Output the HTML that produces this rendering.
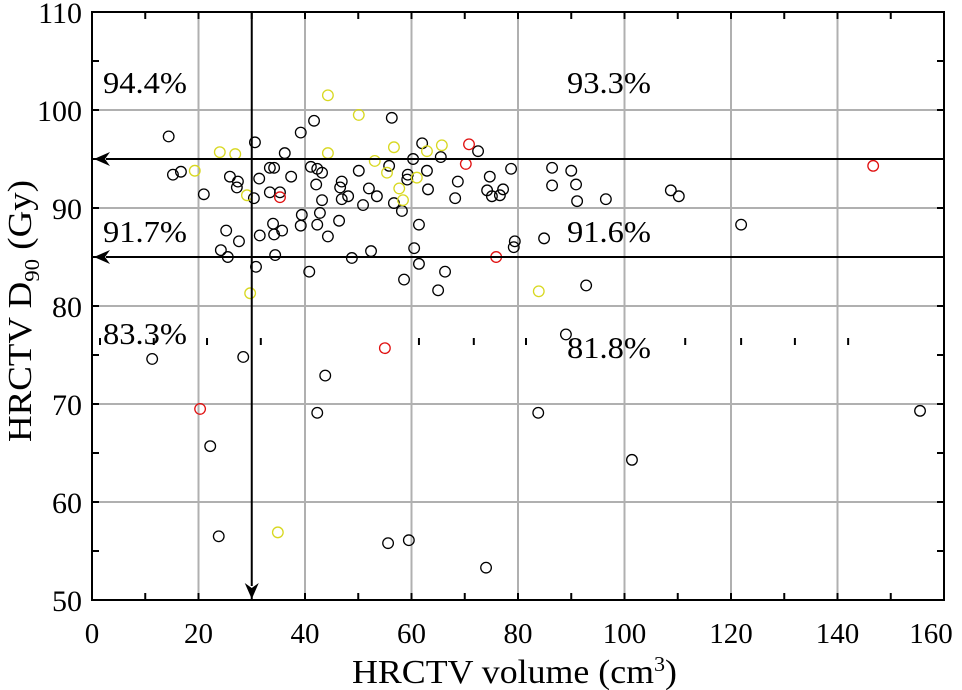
<!DOCTYPE html>
<html><head><meta charset="utf-8"><style>
html,body{margin:0;padding:0;background:#fff;}
svg{display:block;font-family:"Liberation Serif",serif;}
</style></head><body>
<svg id="chart" width="962" height="690" viewBox="0 0 962 690">
<g id="grid"></g>
<g id="marks"></g>
<g id="axes"></g>
<text x="352" y="683" font-size="34" textLength="325" lengthAdjust="spacingAndGlyphs">HRCTV volume (cm<tspan font-size="21" dy="-12">3</tspan><tspan dy="12">)</tspan></text>
<text transform="translate(31,311) rotate(-90)" font-size="34" text-anchor="middle" textLength="262" lengthAdjust="spacingAndGlyphs">HRCTV D<tspan font-size="21" dy="8">90</tspan><tspan dy="-8"> (Gy)</tspan></text>
</svg>
<script>
const blackX=[14.4,30.6,36.2,39.2,41.7,15.2,16.7,21.0,25.9,27.4,27.2,30.4,31.4,33.4,34.2,37.4,33.4,35.3,41.1,42.3,43.2,42.1,43.2,39.4,42.8,39.2,42.3,44.3,25.2,27.6,31.5,34.0,34.2,35.7,24.2,25.5,34.4,30.8,40.8,56.3,62.0,72.5,65.5,60.3,55.8,50.1,59.3,62.9,59.2,46.9,46.6,48.1,46.9,52.0,53.5,56.7,58.2,50.9,63.1,68.7,68.2,74.7,78.7,74.2,75.1,76.6,77.2,86.4,86.4,46.4,61.4,60.5,48.8,52.4,79.4,79.2,84.9,61.4,66.3,58.6,65.0,90.0,90.9,91.1,96.5,108.7,110.2,121.9,92.8,11.3,28.4,43.8,42.3,22.2,23.8,55.6,59.5,74.0,83.8,89.0,101.4,155.5];
const blackY=[97.3,96.7,95.6,97.7,98.9,93.4,93.7,91.4,93.2,92.7,92.1,91.0,93.0,94.1,94.1,93.2,91.6,91.6,94.2,94.0,93.6,92.4,90.8,89.3,89.5,88.2,88.3,87.1,87.7,86.6,87.2,88.4,87.3,87.7,85.7,85.0,85.2,84.0,83.5,99.2,96.6,95.8,95.2,95.0,94.3,93.8,93.4,93.8,92.9,92.7,92.1,91.2,90.9,92.0,91.2,90.5,89.7,90.3,91.9,92.7,91.0,93.2,94.0,91.8,91.2,91.3,91.9,94.1,92.3,88.7,88.3,85.9,84.9,85.6,86.6,86.0,86.9,84.3,83.5,82.7,81.6,93.8,92.4,90.7,90.9,91.8,91.2,88.3,82.1,74.6,74.8,72.9,69.1,65.7,56.5,55.8,56.1,53.3,69.1,77.1,64.3,69.3];
const yellowX=[24.0,26.9,44.3,44.3,19.3,29.1,29.7,50.1,65.7,56.7,62.9,53.1,55.4,61.0,57.7,58.4,83.9,34.9];
const yellowY=[95.7,95.5,101.5,95.6,93.8,91.3,81.3,99.5,96.4,96.2,95.8,94.8,93.6,93.1,92.0,90.8,81.5,56.9];
const redX=[35.3,70.8,70.2,75.9,146.7,55.0,20.3];
const redY=[91.1,96.5,94.5,85.0,94.3,75.7,69.5];
const xTicks=[0,20,40,60,80,100,120,140,160];
const yTicks=[50,60,70,80,90,100,110];
const thresholdsY=[95,85];
const thresholdX=30;
const pctLabels=["94.4%","93.3%","91.7%","91.6%","83.3%","81.8%"];

const L=92,R=944,T=12,B=600;
const xMin=0,xMax=160,yMin=50,yMax=110;
const sx=v=>L+(v-xMin)/(xMax-xMin)*(R-L);
const sy=v=>B-(v-yMin)/(yMax-yMin)*(B-T);
const NS="http://www.w3.org/2000/svg";
function mk(tag,attrs,parent){const e=document.createElementNS(NS,tag);for(const k in attrs)e.setAttribute(k,attrs[k]);parent.appendChild(e);return e;}
const grid=document.getElementById('grid'),marks=document.getElementById('marks'),axes=document.getElementById('axes');

xTicks.forEach(t=>{if(t>xMin&&t<xMax){const l=mk('line',{x1:sx(t),x2:sx(t),y1:T,y2:B,stroke:'#b0b0b0','stroke-width':2},grid);

}});
yTicks.forEach(t=>{if(t>yMin&&t<yMax){const l=mk('line',{x1:L,x2:R,y1:sy(t),y2:sy(t),stroke:'#b0b0b0','stroke-width':2},grid);

}});

[1.5,11.6,21.6,31.7,61.4,71.7,81.5,111.4,121.9,132,142].forEach(v=>{const l=mk('line',{x1:sx(v),x2:sx(v),y1:338,y2:345,stroke:'#000','stroke-width':2},grid);

});

function series(xs,ys,col,name){xs.forEach((x,i)=>{const c=mk('circle',{cx:sx(x),cy:sy(ys[i]),r:5.3,fill:'none',stroke:col,'stroke-width':1.3},marks);

});}
series(blackX,blackY,'#000','point-black');
series(yellowX,yellowY,'#d8d820','point-yellow');
series(redX,redY,'#e01010','point-red');

thresholdsY.forEach(v=>{const y=sy(v);const l=mk('line',{x1:R,x2:L+14,y1:y,y2:y,stroke:'#000','stroke-width':2},axes);


const p=mk('polygon',{points:`${L+2},${y} ${L+18},${y-7} ${L+13},${y} ${L+18},${y+7}`,fill:'#000'},axes);

});
{const x=sx(thresholdX);const l=mk('line',{x1:x,x2:x,y1:T,y2:B-14,stroke:'#000','stroke-width':2},axes);


const p=mk('polygon',{points:`${x},${B-1} ${x-7},${B-17} ${x},${B-12} ${x+7},${B-17}`,fill:'#000'},axes);

}

const fr=mk('rect',{x:L,y:T,width:R-L,height:B-T,fill:'none',stroke:'#000','stroke-width':2},axes);


for(let v=xMin+10;v<xMax;v+=10){[[B,B-7],[T,T+7]].forEach(([a,b])=>{const l=mk('line',{x1:sx(v),x2:sx(v),y1:a,y2:b,stroke:'#000','stroke-width':2},axes);

});}
for(let v=yMin+5;v<yMax;v+=5){[[L,L+7],[R,R-7]].forEach(([a,b])=>{const l=mk('line',{x1:a,x2:b,y1:sy(v),y2:sy(v),stroke:'#000','stroke-width':2},axes);

});}

xTicks.forEach(t=>{const e=mk('text',{x:Math.min(sx(t),931),y:643,'font-size':29,'text-anchor':'middle',fill:'#000'},axes);e.textContent=t;

});
yTicks.forEach(t=>{const e=mk('text',{x:82,y:sy(t)+11,'font-size':30,'text-anchor':'end',fill:'#000'},axes);e.textContent=t;

});

const pos=[[103,93],[567,93],[103,242],[567,242],[103,344],[567,358]];
pctLabels.forEach((s,i)=>{const e=mk('text',{x:pos[i][0],y:pos[i][1],'font-size':31,textLength:84,lengthAdjust:'spacingAndGlyphs',fill:'#000'},axes);e.textContent=s;

});
</script>
</body></html>
